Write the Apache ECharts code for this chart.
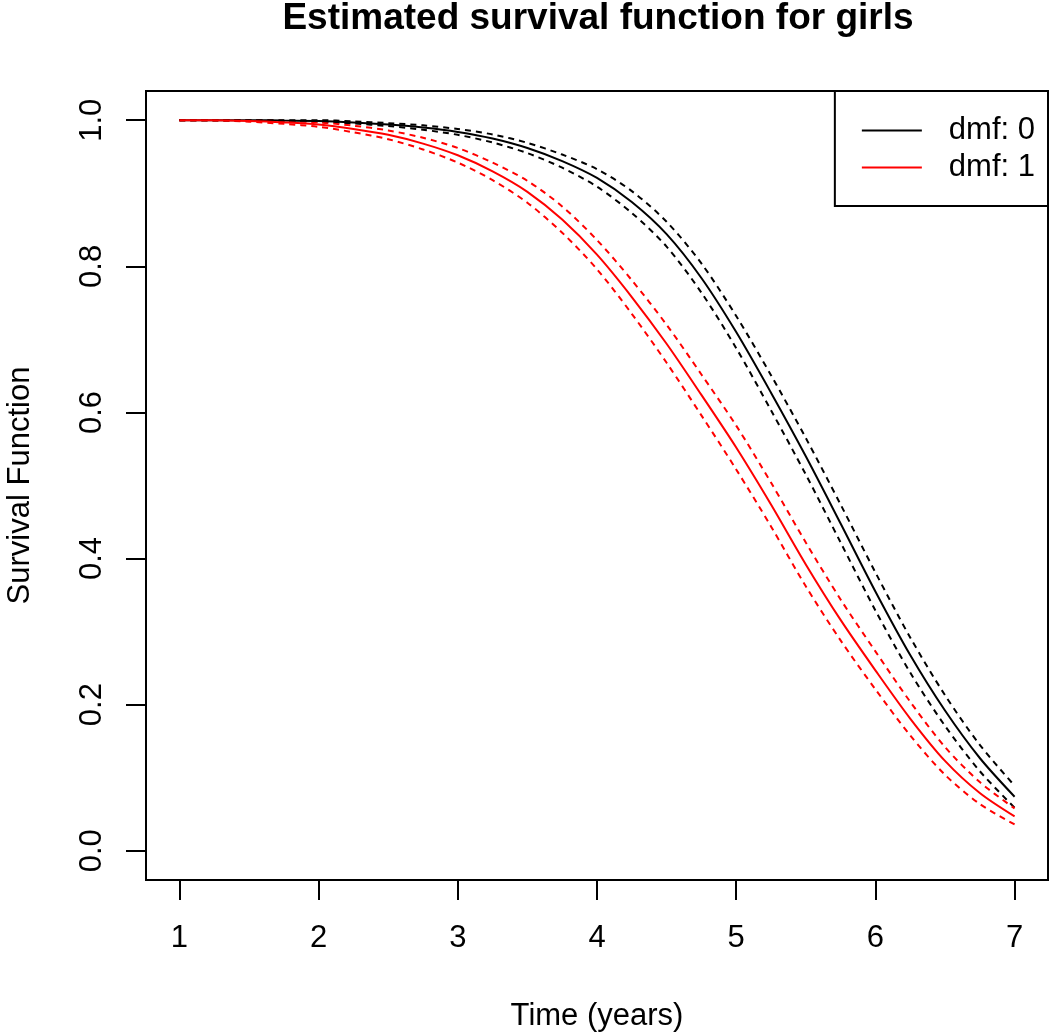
<!DOCTYPE html>
<html>
<head>
<meta charset="utf-8">
<title>Estimated survival function for girls</title>
<script src="https://cdn.jsdelivr.net/npm/echarts@6/dist/echarts.min.js"></script>
<style>
  html, body { margin: 0; padding: 0; background: #fff; }
  #chart { width: 1050px; height: 1032px; }
</style>
</head>
<body>
<div id="chart"></div>
<script>
// time points (years)
var time = [1, 1.25, 1.5, 1.75, 2, 2.25, 2.5, 2.75, 3, 3.25, 3.5, 3.75, 4, 4.25, 4.5, 4.75, 5, 5.25, 5.5, 5.75, 6, 6.25, 6.5, 6.75, 7];

// dmf: 0 (black) estimate and dashed band
var s0 = [1, 1, 1, 0.9995, 0.999, 0.997, 0.994, 0.990, 0.984, 0.975, 0.962, 0.944, 0.921, 0.888, 0.844, 0.784, 0.710, 0.627, 0.540, 0.448, 0.355, 0.268, 0.192, 0.127, 0.074];
var s0Upper = [1, 1, 1, 1, 1, 0.9985, 0.996, 0.993, 0.988, 0.9805, 0.969, 0.953, 0.933, 0.903, 0.861, 0.804, 0.732, 0.651, 0.565, 0.474, 0.381, 0.292, 0.213, 0.145, 0.089];
var s0Lower = [1, 1, 0.9997, 0.9989, 0.998, 0.9955, 0.992, 0.987, 0.980, 0.9695, 0.955, 0.935, 0.909, 0.873, 0.827, 0.764, 0.688, 0.603, 0.515, 0.422, 0.329, 0.244, 0.171, 0.109, 0.059];

// dmf: 1 (red) estimate and dashed band
var s1 = [1, 1, 0.999, 0.997, 0.994, 0.988, 0.980, 0.968, 0.952, 0.930, 0.902, 0.864, 0.816, 0.758, 0.694, 0.624, 0.552, 0.474, 0.392, 0.316, 0.247, 0.181, 0.123, 0.079, 0.047];
var s1Upper = [1, 1, 1, 0.999, 0.997, 0.9925, 0.986, 0.976, 0.962, 0.942, 0.917, 0.882, 0.836, 0.781, 0.720, 0.652, 0.582, 0.504, 0.422, 0.344, 0.273, 0.204, 0.142, 0.094, 0.058];
var s1Lower = [1, 0.9997, 0.998, 0.995, 0.991, 0.9835, 0.974, 0.960, 0.942, 0.918, 0.887, 0.846, 0.796, 0.735, 0.668, 0.596, 0.522, 0.444, 0.362, 0.288, 0.221, 0.158, 0.104, 0.064, 0.036];

var xTicks = [1, 2, 3, 4, 5, 6, 7];
var yTicks = [0, 0.2, 0.4, 0.6, 0.8, 1.0];

var font = 'Liberation Sans, Arial, sans-serif';

function pairs (ys) {
  return time.map(function (t, i) { return [t, ys[i]]; });
}

function curve (name, ys, color, dashed) {
  return {
    name: name,
    type: 'line',
    data: pairs(ys),
    smooth: 0.3,
    symbol: 'none',
    silent: true,
    lineStyle: { color: color, width: 2, type: dashed ? [6, 5] : 'solid' },
    itemStyle: { color: color }
  };
}

var chart = echarts.init(document.getElementById('chart'));
chart.setOption({
  animation: false,
  backgroundColor: '#fff',
  title: {
    text: 'Estimated survival function for girls',
    left: 598,
    top: 0,
    textAlign: 'center',
    padding: 0,
    textStyle: { fontFamily: font, fontSize: 37, fontWeight: 'bold', color: '#000' }
  },
  legend: {
    data: ['dmf: 0', 'dmf: 1'],
    orient: 'vertical',
    right: 2,
    top: 91,
    padding: [24, 13, 23, 27],
    itemGap: 6,
    icon: 'rect',
    itemWidth: 60,
    itemHeight: 2,
    borderColor: '#000',
    borderWidth: 2,
    borderRadius: 0,
    backgroundColor: '#fff',
    selectedMode: false,
    textStyle: { fontFamily: font, fontSize: 31, lineHeight: 31, color: '#000', padding: [0, 0, 0, 22] }
  },
  grid: {
    left: 146,
    right: 2,
    top: 91,
    bottom: 152,
    show: true,
    borderColor: '#000',
    borderWidth: 2,
    containLabel: false,
    outerBoundsMode: 'none'
  },
  xAxis: {
    type: 'value',
    min: 0.76,
    max: 7.24,
    name: 'Time (years)',
    nameLocation: 'middle',
    nameGap: 121,
    nameTextStyle: { fontFamily: font, fontSize: 31, color: '#000' },
    axisLine: { show: false, onZero: false },
    splitLine: { show: false },
    axisTick: { show: true, inside: false, customValues: xTicks, length: 20, lineStyle: { color: '#000', width: 2 } },
    axisLabel: { customValues: xTicks, margin: 43, fontFamily: font, fontSize: 31, color: '#000' }
  },
  yAxis: {
    type: 'value',
    min: -0.04,
    max: 1.04,
    name: 'Survival Function',
    nameLocation: 'middle',
    nameGap: 110,
    nameTextStyle: { fontFamily: font, fontSize: 31, color: '#000' },
    axisLine: { show: false, onZero: false },
    splitLine: { show: false },
    axisTick: { show: true, inside: false, customValues: yTicks, length: 20, lineStyle: { color: '#000', width: 2 } },
    axisLabel: {
      customValues: yTicks,
      rotate: 90,
      margin: 38,
      fontFamily: font,
      fontSize: 31,
      color: '#000',
      formatter: function (v) { return v.toFixed(1); }
    }
  },
  series: [
    curve('dmf: 0 upper', s0Upper, '#000', true),
    curve('dmf: 0 lower', s0Lower, '#000', true),
    curve('dmf: 1 upper', s1Upper, '#ff0000', true),
    curve('dmf: 1 lower', s1Lower, '#ff0000', true),
    curve('dmf: 0', s0, '#000', false),
    curve('dmf: 1', s1, '#ff0000', false)
  ]
});
</script>
</body>
</html>
